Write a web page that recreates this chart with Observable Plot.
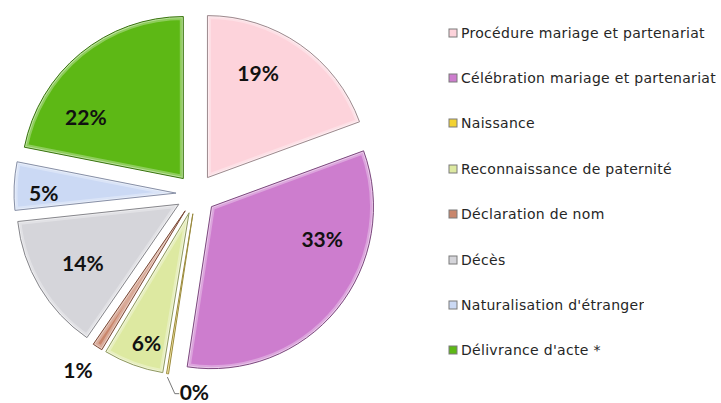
<!DOCTYPE html>
<html><head><meta charset="utf-8">
<script src="https://cdn.jsdelivr.net/npm/d3@7"></script>
<script src="https://cdn.jsdelivr.net/npm/@observablehq/plot@0.6"></script>
<style>
body{margin:0;background:#fff;}
#wrap{position:relative;width:721px;height:403px;overflow:hidden;background:#fff;}
#chart{position:absolute;left:0;top:0;}
#legend{position:absolute;left:449px;top:10px;}
.lg-swatches{font-family:"DejaVu Sans",sans-serif;font-size:14px;letter-spacing:0.3px;color:#262626;margin:0 !important;}
.lg-swatch{height:45.4px;padding:0 !important;}
.lg-swatch > svg{margin-right:4px !important;}
.lg-swatch rect{stroke:#7a7a7a;stroke-width:1px;}
</style></head><body><div id="wrap"><div id="chart"></div><div id="legend"></div></div>
<script>
// ---- data ----
const categories = [
  "Procédure mariage et partenariat",
  "Célébration mariage et partenariat",
  "Naissance",
  "Reconnaissance de paternité",
  "Déclaration de nom",
  "Décès",
  "Naturalisation d'étranger",
  "Délivrance d'acte *"
];
const values = [19.4, 33.0, 0.2, 6.0, 1.0, 13.7, 4.8, 21.9];
const colors = ["#FDD3DB", "#CD7DCE", "#F2D233", "#DDE9A1", "#C9866C", "#D5D5DA", "#CBD9F4", "#5DB815"];
const strokes = ["#9c8a8e", "#7c4a7e", "#9a8a40", "#8f9862", "#7a4a38", "#87878c", "#8890a6", "#3a7410"];

// ---- layout (rendering only) ----
const W = 440, H = 403, CX = 196, CY = 194, R = 162, EXPLODE = 20;
const labelPlace = [
  {f: 0.37, r: 0.71}, {f: 0.31, r: 0.71}, null, {f: 0.41, r: 0.85},
  {f: 0.84, r: 1.19}, {f: 0.48, r: 0.70}, {f: 0.35, r: 0.82}, {f: 0.26, r: 0.71}
];

const data = categories.map((c, i) => ({category: c, value: values[i], i}));
const total = d3.sum(values);
const arcs = d3.pie().sort(null).value(d => d.value).startAngle(0).endAngle(2 * Math.PI)(data);
const e = EXPLODE / R;
arcs.forEach(a => {
  a.mid = (a.startAngle + a.endAngle) / 2;
  a.ex = e * Math.sin(a.mid);
  a.ey = e * Math.cos(a.mid);
});

const labels = [];
arcs.forEach((a, i) => {
  const p = labelPlace[i];
  if (!p) return;
  const th = a.startAngle + p.f * (a.endAngle - a.startAngle);
  labels.push({x: a.ex + p.r * Math.sin(th), y: a.ey + p.r * Math.cos(th), text: Math.round(a.data.value / total * 100) + "%"});
});
// callout for the tiny slice
const zi = 2, za = arcs[zi];
const p0 = {x: za.ex + 1.02 * Math.sin(za.mid), y: za.ey + 1.02 * Math.cos(za.mid)};
const p1 = {x: p0.x + 0.045, y: p0.y - 0.10};
const p2 = {x: p1.x + 0.025, y: p1.y};
const leader = [p0, p1, p2];
const callout = [{x: p2.x + 0.005, y: p2.y, text: Math.round(values[zi] / total * 100) + "%"}];

function pieMark(index, scales, vals, dims, context) {
  const cx = scales.x(0), cy = scales.y(0), r = scales.x(1) - cx;
  const arc = d3.arc().innerRadius(0).outerRadius(r);
  const g = d3.create("svg:g");
  const defs = g.append("defs");
  arcs.forEach((a, i) => {
    const dx = scales.x(a.ex) - cx, dy = scales.y(a.ey) - cy;
    const d = arc(a);
    defs.append("clipPath").attr("id", "clip" + i).append("path").attr("d", d);
    const sg = g.append("g").attr("transform", `translate(${cx + dx},${cy + dy})`);
    sg.append("path").attr("d", d).attr("fill", colors[i]);
    sg.append("path").attr("d", d).attr("fill", "none").attr("stroke", "#fff").attr("stroke-opacity", 0.3).attr("stroke-width", 7).attr("clip-path", `url(#clip${i})`);
    sg.append("path").attr("d", d).attr("fill", "none").attr("stroke", "#fff").attr("stroke-opacity", 0.4).attr("stroke-width", 3).attr("clip-path", `url(#clip${i})`);
    sg.append("path").attr("d", d).attr("fill", "none").attr("stroke", strokes[i]).attr("stroke-width", 1).attr("stroke-linejoin", "round");
  });
  return g.node();
}

const textStyle = {x: "x", y: "y", text: "text", fontFamily: "Lato", fontWeight: "bold", fontSize: 21, fill: "#111"};
const chart = Plot.plot({
  width: W, height: H, margin: 0,
  x: {domain: [-CX / R, (W - CX) / R], axis: null},
  y: {domain: [-(H - CY) / R, CY / R], axis: null},
  color: {domain: categories, range: colors},
  marks: [
    pieMark,
    Plot.line(leader, {x: "x", y: "y", stroke: "#555", strokeWidth: 0.8}),
    Plot.text(labels, {...textStyle, textAnchor: "middle"}),
    Plot.text(callout, {...textStyle, textAnchor: "start"})
  ],
  style: {background: "transparent", overflow: "visible"}
});
document.getElementById("chart").appendChild(chart);

const legend = Plot.legend({
  color: {domain: categories, range: colors},
  legend: "swatches", columns: 1, swatchSize: 8, className: "lg"
});
document.getElementById("legend").appendChild(legend);
</script>
</body></html>
